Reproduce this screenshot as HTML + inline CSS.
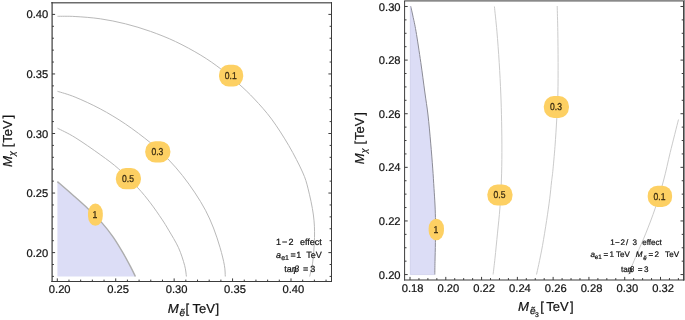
<!DOCTYPE html>
<html><head><meta charset="utf-8"><title>plot</title>
<style>
html,body{margin:0;padding:0;background:#fff;}
body{width:685px;height:320px;overflow:hidden;}
svg{display:block;}
svg{will-change:transform;transform:translateZ(0);}
svg text{font-family:"Liberation Sans","DejaVu Sans",sans-serif;text-rendering:geometricPrecision;stroke:#141414;stroke-width:0.22px;}
svg text.b{stroke:#3b2c12;stroke-width:0.3px;}
</style></head><body>
<svg width="685" height="320" viewBox="0 0 685 320">
<rect x="0" y="0" width="685" height="320" fill="#ffffff"/>
<path d="M57.40,181.60 C59.92,183.78 67.48,190.27 72.50,194.70 C77.52,199.13 82.58,203.50 87.50,208.20 C92.42,212.90 97.72,218.08 102.00,222.90 C106.28,227.72 109.63,231.98 113.20,237.10 C116.77,242.22 120.45,248.55 123.40,253.60 C126.35,258.65 128.90,263.58 130.90,267.40 C132.90,271.22 134.65,274.98 135.40,276.50 L57.4,276.5 L57.4,181.6 Z" fill="#dcddf6" stroke="none"/>
<path d="M57.40,181.60 C59.92,183.78 67.48,190.27 72.50,194.70 C77.52,199.13 82.58,203.50 87.50,208.20 C92.42,212.90 97.72,218.08 102.00,222.90 C106.28,227.72 109.63,231.98 113.20,237.10 C116.77,242.22 120.45,248.55 123.40,253.60 C126.35,258.65 128.90,263.58 130.90,267.40 C132.90,271.22 134.65,274.98 135.40,276.50" fill="none" stroke="#adadad" stroke-width="1.4"/>
<path d="M57.50,16.30 C60.43,16.33 67.97,16.08 75.10,16.50 C82.23,16.92 91.92,17.58 100.30,18.80 C108.68,20.02 117.03,21.70 125.40,23.80 C133.77,25.90 142.13,28.43 150.50,31.40 C158.87,34.37 167.22,37.63 175.60,41.60 C183.98,45.57 193.25,50.63 200.80,55.20 C208.35,59.77 214.55,64.20 220.90,69.00 C227.25,73.80 233.32,79.00 238.90,84.00 C244.48,89.00 248.95,93.15 254.40,99.00 C259.85,104.85 265.87,111.33 271.60,119.10 C277.33,126.87 283.65,136.78 288.80,145.60 C293.95,154.42 299.28,164.80 302.50,172.00 C305.72,179.20 306.28,181.63 308.10,188.80 C309.92,195.97 312.33,206.88 313.40,215.00 C314.47,223.12 314.65,229.37 314.50,237.50 C314.35,245.63 313.32,257.30 312.50,263.80 C311.68,270.30 310.08,274.38 309.60,276.50" fill="none" stroke="#b9b9b9" stroke-width="1.0"/>
<path d="M57.50,91.30 C60.43,92.27 67.97,94.17 75.10,97.10 C82.23,100.03 91.92,104.42 100.30,108.90 C108.68,113.38 117.03,118.35 125.40,124.00 C133.77,129.65 143.43,137.00 150.50,142.80 C157.57,148.60 162.47,153.33 167.80,158.80 C173.13,164.27 177.97,169.92 182.50,175.60 C187.03,181.28 191.17,187.12 195.00,192.90 C198.83,198.68 202.42,204.45 205.50,210.30 C208.58,216.15 211.07,221.77 213.50,228.00 C215.93,234.23 218.28,241.48 220.10,247.70 C221.92,253.92 223.53,260.50 224.40,265.30 C225.27,270.10 225.15,274.63 225.30,276.50" fill="none" stroke="#b9b9b9" stroke-width="1.0"/>
<path d="M57.50,128.20 C60.43,129.75 67.97,133.08 75.10,137.50 C82.23,141.92 93.02,149.45 100.30,154.70 C107.58,159.95 112.57,163.50 118.80,169.00 C125.03,174.50 132.45,182.07 137.70,187.70 C142.95,193.33 146.28,197.57 150.30,202.80 C154.32,208.03 158.73,214.53 161.80,219.10 C164.87,223.67 165.92,225.43 168.70,230.20 C171.48,234.97 175.85,241.85 178.50,247.70 C181.15,253.55 183.28,260.50 184.60,265.30 C185.92,270.10 186.10,274.63 186.40,276.50" fill="none" stroke="#b9b9b9" stroke-width="1.0"/>
<line x1="51.30" y1="2.75" x2="332.00" y2="2.75" stroke="#6c6c6c" stroke-width="1.4"/>
<line x1="52.10" y1="2.05" x2="52.10" y2="282.00" stroke="#3c3c3c" stroke-width="1.2"/>
<line x1="331.50" y1="2.05" x2="331.50" y2="282.00" stroke="#3c3c3c" stroke-width="1"/>
<line x1="51.30" y1="281.50" x2="332.00" y2="281.50" stroke="#3c3c3c" stroke-width="1"/>
<line x1="57.30" y1="281.50" x2="57.30" y2="278.40" stroke="#3c3c3c" stroke-width="1"/>
<text x="59.70" y="293.40" font-size="11.2" text-anchor="middle" fill="#141414">0.20</text>
<line x1="68.98" y1="281.50" x2="68.98" y2="279.60" stroke="#3c3c3c" stroke-width="1"/>
<line x1="80.67" y1="281.50" x2="80.67" y2="279.60" stroke="#3c3c3c" stroke-width="1"/>
<line x1="92.35" y1="281.50" x2="92.35" y2="279.60" stroke="#3c3c3c" stroke-width="1"/>
<line x1="104.04" y1="281.50" x2="104.04" y2="279.60" stroke="#3c3c3c" stroke-width="1"/>
<line x1="115.72" y1="281.50" x2="115.72" y2="278.40" stroke="#3c3c3c" stroke-width="1"/>
<text x="118.12" y="293.40" font-size="11.2" text-anchor="middle" fill="#141414">0.25</text>
<line x1="127.41" y1="281.50" x2="127.41" y2="279.60" stroke="#3c3c3c" stroke-width="1"/>
<line x1="139.09" y1="281.50" x2="139.09" y2="279.60" stroke="#3c3c3c" stroke-width="1"/>
<line x1="150.78" y1="281.50" x2="150.78" y2="279.60" stroke="#3c3c3c" stroke-width="1"/>
<line x1="162.47" y1="281.50" x2="162.47" y2="279.60" stroke="#3c3c3c" stroke-width="1"/>
<line x1="174.15" y1="281.50" x2="174.15" y2="278.40" stroke="#3c3c3c" stroke-width="1"/>
<text x="176.55" y="293.40" font-size="11.2" text-anchor="middle" fill="#141414">0.30</text>
<line x1="185.83" y1="281.50" x2="185.83" y2="279.60" stroke="#3c3c3c" stroke-width="1"/>
<line x1="197.52" y1="281.50" x2="197.52" y2="279.60" stroke="#3c3c3c" stroke-width="1"/>
<line x1="209.20" y1="281.50" x2="209.20" y2="279.60" stroke="#3c3c3c" stroke-width="1"/>
<line x1="220.89" y1="281.50" x2="220.89" y2="279.60" stroke="#3c3c3c" stroke-width="1"/>
<line x1="232.57" y1="281.50" x2="232.57" y2="278.40" stroke="#3c3c3c" stroke-width="1"/>
<text x="234.97" y="293.40" font-size="11.2" text-anchor="middle" fill="#141414">0.35</text>
<line x1="244.26" y1="281.50" x2="244.26" y2="279.60" stroke="#3c3c3c" stroke-width="1"/>
<line x1="255.94" y1="281.50" x2="255.94" y2="279.60" stroke="#3c3c3c" stroke-width="1"/>
<line x1="267.63" y1="281.50" x2="267.63" y2="279.60" stroke="#3c3c3c" stroke-width="1"/>
<line x1="279.31" y1="281.50" x2="279.31" y2="279.60" stroke="#3c3c3c" stroke-width="1"/>
<line x1="291.00" y1="281.50" x2="291.00" y2="278.40" stroke="#3c3c3c" stroke-width="1"/>
<text x="293.40" y="293.40" font-size="11.2" text-anchor="middle" fill="#141414">0.40</text>
<line x1="302.69" y1="281.50" x2="302.69" y2="279.60" stroke="#3c3c3c" stroke-width="1"/>
<line x1="314.37" y1="281.50" x2="314.37" y2="279.60" stroke="#3c3c3c" stroke-width="1"/>
<line x1="326.06" y1="281.50" x2="326.06" y2="279.60" stroke="#3c3c3c" stroke-width="1"/>
<line x1="52.00" y1="276.42" x2="53.90" y2="276.42" stroke="#3c3c3c" stroke-width="1"/>
<line x1="331.50" y1="276.42" x2="329.60" y2="276.42" stroke="#3c3c3c" stroke-width="1"/>
<line x1="52.00" y1="264.51" x2="53.90" y2="264.51" stroke="#3c3c3c" stroke-width="1"/>
<line x1="331.50" y1="264.51" x2="329.60" y2="264.51" stroke="#3c3c3c" stroke-width="1"/>
<line x1="52.00" y1="252.60" x2="55.10" y2="252.60" stroke="#3c3c3c" stroke-width="1"/>
<line x1="331.50" y1="252.60" x2="328.40" y2="252.60" stroke="#3c3c3c" stroke-width="1"/>
<text x="48.20" y="256.60" font-size="11.2" text-anchor="end" fill="#141414">0.20</text>
<line x1="52.00" y1="240.69" x2="53.90" y2="240.69" stroke="#3c3c3c" stroke-width="1"/>
<line x1="331.50" y1="240.69" x2="329.60" y2="240.69" stroke="#3c3c3c" stroke-width="1"/>
<line x1="52.00" y1="228.78" x2="53.90" y2="228.78" stroke="#3c3c3c" stroke-width="1"/>
<line x1="331.50" y1="228.78" x2="329.60" y2="228.78" stroke="#3c3c3c" stroke-width="1"/>
<line x1="52.00" y1="216.87" x2="53.90" y2="216.87" stroke="#3c3c3c" stroke-width="1"/>
<line x1="331.50" y1="216.87" x2="329.60" y2="216.87" stroke="#3c3c3c" stroke-width="1"/>
<line x1="52.00" y1="204.96" x2="53.90" y2="204.96" stroke="#3c3c3c" stroke-width="1"/>
<line x1="331.50" y1="204.96" x2="329.60" y2="204.96" stroke="#3c3c3c" stroke-width="1"/>
<line x1="52.00" y1="193.05" x2="55.10" y2="193.05" stroke="#3c3c3c" stroke-width="1"/>
<line x1="331.50" y1="193.05" x2="328.40" y2="193.05" stroke="#3c3c3c" stroke-width="1"/>
<text x="48.20" y="197.05" font-size="11.2" text-anchor="end" fill="#141414">0.25</text>
<line x1="52.00" y1="181.14" x2="53.90" y2="181.14" stroke="#3c3c3c" stroke-width="1"/>
<line x1="331.50" y1="181.14" x2="329.60" y2="181.14" stroke="#3c3c3c" stroke-width="1"/>
<line x1="52.00" y1="169.23" x2="53.90" y2="169.23" stroke="#3c3c3c" stroke-width="1"/>
<line x1="331.50" y1="169.23" x2="329.60" y2="169.23" stroke="#3c3c3c" stroke-width="1"/>
<line x1="52.00" y1="157.32" x2="53.90" y2="157.32" stroke="#3c3c3c" stroke-width="1"/>
<line x1="331.50" y1="157.32" x2="329.60" y2="157.32" stroke="#3c3c3c" stroke-width="1"/>
<line x1="52.00" y1="145.41" x2="53.90" y2="145.41" stroke="#3c3c3c" stroke-width="1"/>
<line x1="331.50" y1="145.41" x2="329.60" y2="145.41" stroke="#3c3c3c" stroke-width="1"/>
<line x1="52.00" y1="133.50" x2="55.10" y2="133.50" stroke="#3c3c3c" stroke-width="1"/>
<line x1="331.50" y1="133.50" x2="328.40" y2="133.50" stroke="#3c3c3c" stroke-width="1"/>
<text x="48.20" y="137.50" font-size="11.2" text-anchor="end" fill="#141414">0.30</text>
<line x1="52.00" y1="121.59" x2="53.90" y2="121.59" stroke="#3c3c3c" stroke-width="1"/>
<line x1="331.50" y1="121.59" x2="329.60" y2="121.59" stroke="#3c3c3c" stroke-width="1"/>
<line x1="52.00" y1="109.68" x2="53.90" y2="109.68" stroke="#3c3c3c" stroke-width="1"/>
<line x1="331.50" y1="109.68" x2="329.60" y2="109.68" stroke="#3c3c3c" stroke-width="1"/>
<line x1="52.00" y1="97.77" x2="53.90" y2="97.77" stroke="#3c3c3c" stroke-width="1"/>
<line x1="331.50" y1="97.77" x2="329.60" y2="97.77" stroke="#3c3c3c" stroke-width="1"/>
<line x1="52.00" y1="85.86" x2="53.90" y2="85.86" stroke="#3c3c3c" stroke-width="1"/>
<line x1="331.50" y1="85.86" x2="329.60" y2="85.86" stroke="#3c3c3c" stroke-width="1"/>
<line x1="52.00" y1="73.95" x2="55.10" y2="73.95" stroke="#3c3c3c" stroke-width="1"/>
<line x1="331.50" y1="73.95" x2="328.40" y2="73.95" stroke="#3c3c3c" stroke-width="1"/>
<text x="48.20" y="77.95" font-size="11.2" text-anchor="end" fill="#141414">0.35</text>
<line x1="52.00" y1="62.04" x2="53.90" y2="62.04" stroke="#3c3c3c" stroke-width="1"/>
<line x1="331.50" y1="62.04" x2="329.60" y2="62.04" stroke="#3c3c3c" stroke-width="1"/>
<line x1="52.00" y1="50.13" x2="53.90" y2="50.13" stroke="#3c3c3c" stroke-width="1"/>
<line x1="331.50" y1="50.13" x2="329.60" y2="50.13" stroke="#3c3c3c" stroke-width="1"/>
<line x1="52.00" y1="38.22" x2="53.90" y2="38.22" stroke="#3c3c3c" stroke-width="1"/>
<line x1="331.50" y1="38.22" x2="329.60" y2="38.22" stroke="#3c3c3c" stroke-width="1"/>
<line x1="52.00" y1="26.31" x2="53.90" y2="26.31" stroke="#3c3c3c" stroke-width="1"/>
<line x1="331.50" y1="26.31" x2="329.60" y2="26.31" stroke="#3c3c3c" stroke-width="1"/>
<line x1="52.00" y1="14.40" x2="55.10" y2="14.40" stroke="#3c3c3c" stroke-width="1"/>
<line x1="331.50" y1="14.40" x2="328.40" y2="14.40" stroke="#3c3c3c" stroke-width="1"/>
<text x="48.20" y="18.40" font-size="11.2" text-anchor="end" fill="#141414">0.40</text>
<rect x="219.00" y="64.80" width="24.20" height="21.60" rx="9.68" ry="10.15" fill="#fdd063"/>
<text x="224.75" y="79.00" font-size="10.0" fill="#3b2c12" class="b" textLength="11.9" lengthAdjust="spacingAndGlyphs">0.1</text>
<rect x="145.25" y="141.20" width="25.10" height="21.20" rx="10.04" ry="9.96" fill="#fdd063"/>
<text x="151.45" y="155.20" font-size="10.0" fill="#3b2c12" class="b" textLength="11.9" lengthAdjust="spacingAndGlyphs">0.3</text>
<rect x="115.85" y="168.10" width="25.10" height="21.20" rx="10.04" ry="9.96" fill="#fdd063"/>
<text x="122.05" y="182.10" font-size="10.0" fill="#3b2c12" class="b" textLength="11.9" lengthAdjust="spacingAndGlyphs">0.5</text>
<rect x="88.00" y="203.60" width="14.80" height="22.20" rx="7.40" ry="9.77" fill="#fdd063"/>
<text x="92.60" y="218.10" font-size="10.0" fill="#3b2c12" class="b" textLength="4.8" lengthAdjust="spacingAndGlyphs">1</text>
<text x="276.10" y="244.90" font-size="9" text-anchor="start" fill="#141414" >1</text>
<text x="282.00" y="244.90" font-size="9" text-anchor="start" fill="#141414" >−</text>
<text x="288.60" y="244.90" font-size="9" text-anchor="start" fill="#141414" >2</text>
<text x="299.90" y="244.90" font-size="9" text-anchor="start" fill="#141414" >effect</text>
<text x="276.00" y="258.00" font-size="9" text-anchor="start" fill="#141414" font-style="italic">a</text>
<text x="281.20" y="260.20" font-size="7.0" text-anchor="start" fill="#141414" >e1</text>
<text x="290.60" y="258.00" font-size="9" text-anchor="start" fill="#141414" >=</text>
<text x="296.30" y="258.00" font-size="9" text-anchor="start" fill="#141414" >1</text>
<text x="306.20" y="258.00" font-size="9" text-anchor="start" fill="#141414" >TeV</text>
<text x="284.20" y="271.80" font-size="9" text-anchor="start" fill="#141414" >tan</text>
<text x="294.00" y="271.80" font-size="9" text-anchor="start" fill="#141414" font-style="italic">β</text>
<text x="303.00" y="271.80" font-size="9" text-anchor="start" fill="#141414" >=</text>
<text x="310.20" y="271.80" font-size="9" text-anchor="start" fill="#141414" >3</text>
<text x="167.70" y="312.50" font-size="13.0" text-anchor="start" fill="#141414" font-style="italic" textLength="11.0" lengthAdjust="spacingAndGlyphs">M</text>
<text x="179.60" y="316.10" font-size="10.0" text-anchor="start" fill="#141414" font-style="italic">ẽ</text>
<text x="185.50" y="312.50" font-size="13.0" text-anchor="start" fill="#141414" >[</text>
<text x="192.60" y="312.50" font-size="13.0" text-anchor="start" fill="#141414" >TeV</text>
<text x="215.60" y="312.50" font-size="13.0" text-anchor="start" fill="#141414" >]</text>
<g transform="translate(12.00,166.90) rotate(-90)">
<text x="0.00" y="0.00" font-size="13.0" text-anchor="start" fill="#141414" font-style="italic" textLength="11.0" lengthAdjust="spacingAndGlyphs">M</text>
<text x="11.00" y="2.60" font-size="8.8" text-anchor="start" fill="#141414" font-style="italic">χ</text>
<text x="19.70" y="0.00" font-size="13.0" text-anchor="start" fill="#141414" >[</text>
<text x="24.20" y="0.00" font-size="13.0" text-anchor="start" fill="#141414" >TeV</text>
<text x="48.40" y="0.00" font-size="13.0" text-anchor="start" fill="#141414" >]</text>
</g>
<path d="M410.70,6.20 C411.07,7.83 412.02,11.82 412.90,16.00 C413.78,20.18 414.68,23.55 416.00,31.30 C417.32,39.05 419.33,52.38 420.80,62.50 C422.27,72.62 423.60,83.25 424.80,92.00 C426.00,100.75 427.02,106.48 428.00,115.00 C428.98,123.52 429.92,134.25 430.70,143.10 C431.48,151.95 432.15,160.55 432.70,168.10 C433.25,175.65 433.62,182.25 434.00,188.40 C434.38,194.55 434.75,199.40 435.00,205.00 C435.25,210.60 435.43,215.75 435.50,222.00 C435.57,228.25 435.48,235.95 435.40,242.50 C435.32,249.05 435.10,255.95 435.00,261.30 C434.90,266.65 434.83,272.38 434.80,274.60 L410.3,274.6 L410.3,6.2 Z" fill="#dcddf6" stroke="none"/>
<path d="M410.70,6.20 C411.07,7.83 412.02,11.82 412.90,16.00 C413.78,20.18 414.68,23.55 416.00,31.30 C417.32,39.05 419.33,52.38 420.80,62.50 C422.27,72.62 423.60,83.25 424.80,92.00 C426.00,100.75 427.02,106.48 428.00,115.00 C428.98,123.52 429.92,134.25 430.70,143.10 C431.48,151.95 432.15,160.55 432.70,168.10 C433.25,175.65 433.62,182.25 434.00,188.40 C434.38,194.55 434.75,199.40 435.00,205.00 C435.25,210.60 435.43,215.75 435.50,222.00 C435.57,228.25 435.48,235.95 435.40,242.50 C435.32,249.05 435.10,255.95 435.00,261.30 C434.90,266.65 434.83,272.38 434.80,274.60" fill="none" stroke="#8c8c96" stroke-width="1.0"/>
<path d="M410.3,6.2 L410.3,274.6 L434.8,274.6" fill="none" stroke="#c3c5e6" stroke-width="0.6"/>
<path d="M494.40,6.50 C494.82,10.62 496.10,21.92 496.90,31.25 C497.70,40.58 498.55,52.04 499.20,62.50 C499.85,72.96 500.40,84.20 500.80,94.00 C501.20,103.80 501.42,111.55 501.60,121.30 C501.78,131.05 501.93,142.72 501.90,152.50 C501.87,162.28 501.73,170.73 501.40,180.00 C501.07,189.27 500.55,199.25 499.90,208.10 C499.25,216.95 498.32,224.77 497.50,233.10 C496.68,241.43 495.73,251.20 495.00,258.10 C494.27,265.00 493.42,271.77 493.10,274.50" fill="none" stroke="#cbcbcb" stroke-width="1.0"/>
<path d="M557.20,6.00 C557.30,10.21 557.65,21.83 557.80,31.25 C557.95,40.67 558.08,52.08 558.10,62.50 C558.12,72.92 558.12,84.48 557.90,93.75 C557.68,103.02 557.28,109.34 556.80,118.10 C556.32,126.86 555.67,137.43 555.00,146.30 C554.33,155.17 553.38,165.35 552.80,171.30 C552.22,177.25 552.02,177.43 551.50,182.00 C550.98,186.57 550.52,192.32 549.70,198.75 C548.88,205.18 547.80,212.79 546.60,220.60 C545.40,228.41 543.81,238.30 542.50,245.60 C541.19,252.90 539.75,259.58 538.75,264.40 C537.75,269.22 536.88,272.82 536.50,274.50" fill="none" stroke="#cbcbcb" stroke-width="1.0"/>
<path d="M678.50,119.50 C677.12,125.00 672.67,142.42 670.20,152.50 C667.73,162.58 666.19,170.73 663.70,180.00 C661.21,189.27 658.22,199.25 655.25,208.10 C652.28,216.95 649.02,225.28 645.90,233.10 C642.77,240.92 639.43,248.10 636.50,255.00 C633.57,261.90 629.67,271.25 628.30,274.50" fill="none" stroke="#cbcbcb" stroke-width="1.0"/>
<rect x="404.1" y="0" width="280.9" height="1.7" fill="#8a8a8a"/>
<line x1="404.60" y1="1.00" x2="404.60" y2="280.50" stroke="#3c3c3c" stroke-width="1"/>
<rect x="683.1" y="0" width="1.9" height="280.5" fill="#8e8e8e"/>
<line x1="683.50" y1="1.00" x2="683.50" y2="280.50" stroke="#3c3c3c" stroke-width="0.9"/>
<line x1="404.10" y1="280.00" x2="684.15" y2="280.00" stroke="#3c3c3c" stroke-width="1.05"/>
<line x1="410.00" y1="280.00" x2="410.00" y2="276.90" stroke="#3c3c3c" stroke-width="1"/>
<text x="412.60" y="291.50" font-size="11.2" text-anchor="middle" fill="#141414">0.18</text>
<line x1="418.95" y1="280.00" x2="418.95" y2="278.10" stroke="#3c3c3c" stroke-width="1"/>
<line x1="427.89" y1="280.00" x2="427.89" y2="278.10" stroke="#3c3c3c" stroke-width="1"/>
<line x1="436.84" y1="280.00" x2="436.84" y2="278.10" stroke="#3c3c3c" stroke-width="1"/>
<line x1="445.79" y1="280.00" x2="445.79" y2="276.90" stroke="#3c3c3c" stroke-width="1"/>
<text x="448.39" y="291.50" font-size="11.2" text-anchor="middle" fill="#141414">0.20</text>
<line x1="454.73" y1="280.00" x2="454.73" y2="278.10" stroke="#3c3c3c" stroke-width="1"/>
<line x1="463.68" y1="280.00" x2="463.68" y2="278.10" stroke="#3c3c3c" stroke-width="1"/>
<line x1="472.63" y1="280.00" x2="472.63" y2="278.10" stroke="#3c3c3c" stroke-width="1"/>
<line x1="481.57" y1="280.00" x2="481.57" y2="276.90" stroke="#3c3c3c" stroke-width="1"/>
<text x="484.17" y="291.50" font-size="11.2" text-anchor="middle" fill="#141414">0.22</text>
<line x1="490.52" y1="280.00" x2="490.52" y2="278.10" stroke="#3c3c3c" stroke-width="1"/>
<line x1="499.46" y1="280.00" x2="499.46" y2="278.10" stroke="#3c3c3c" stroke-width="1"/>
<line x1="508.41" y1="280.00" x2="508.41" y2="278.10" stroke="#3c3c3c" stroke-width="1"/>
<line x1="517.36" y1="280.00" x2="517.36" y2="276.90" stroke="#3c3c3c" stroke-width="1"/>
<text x="519.96" y="291.50" font-size="11.2" text-anchor="middle" fill="#141414">0.24</text>
<line x1="526.30" y1="280.00" x2="526.30" y2="278.10" stroke="#3c3c3c" stroke-width="1"/>
<line x1="535.25" y1="280.00" x2="535.25" y2="278.10" stroke="#3c3c3c" stroke-width="1"/>
<line x1="544.20" y1="280.00" x2="544.20" y2="278.10" stroke="#3c3c3c" stroke-width="1"/>
<line x1="553.14" y1="280.00" x2="553.14" y2="276.90" stroke="#3c3c3c" stroke-width="1"/>
<text x="555.74" y="291.50" font-size="11.2" text-anchor="middle" fill="#141414">0.26</text>
<line x1="562.09" y1="280.00" x2="562.09" y2="278.10" stroke="#3c3c3c" stroke-width="1"/>
<line x1="571.04" y1="280.00" x2="571.04" y2="278.10" stroke="#3c3c3c" stroke-width="1"/>
<line x1="579.98" y1="280.00" x2="579.98" y2="278.10" stroke="#3c3c3c" stroke-width="1"/>
<line x1="588.93" y1="280.00" x2="588.93" y2="276.90" stroke="#3c3c3c" stroke-width="1"/>
<text x="591.53" y="291.50" font-size="11.2" text-anchor="middle" fill="#141414">0.28</text>
<line x1="597.88" y1="280.00" x2="597.88" y2="278.10" stroke="#3c3c3c" stroke-width="1"/>
<line x1="606.82" y1="280.00" x2="606.82" y2="278.10" stroke="#3c3c3c" stroke-width="1"/>
<line x1="615.77" y1="280.00" x2="615.77" y2="278.10" stroke="#3c3c3c" stroke-width="1"/>
<line x1="624.72" y1="280.00" x2="624.72" y2="276.90" stroke="#3c3c3c" stroke-width="1"/>
<text x="627.32" y="291.50" font-size="11.2" text-anchor="middle" fill="#141414">0.30</text>
<line x1="633.66" y1="280.00" x2="633.66" y2="278.10" stroke="#3c3c3c" stroke-width="1"/>
<line x1="642.61" y1="280.00" x2="642.61" y2="278.10" stroke="#3c3c3c" stroke-width="1"/>
<line x1="651.56" y1="280.00" x2="651.56" y2="278.10" stroke="#3c3c3c" stroke-width="1"/>
<line x1="660.50" y1="280.00" x2="660.50" y2="276.90" stroke="#3c3c3c" stroke-width="1"/>
<text x="663.10" y="291.50" font-size="11.2" text-anchor="middle" fill="#141414">0.32</text>
<line x1="669.45" y1="280.00" x2="669.45" y2="278.10" stroke="#3c3c3c" stroke-width="1"/>
<line x1="678.39" y1="280.00" x2="678.39" y2="278.10" stroke="#3c3c3c" stroke-width="1"/>
<line x1="404.60" y1="274.57" x2="407.70" y2="274.57" stroke="#3c3c3c" stroke-width="1"/>
<line x1="683.60" y1="274.57" x2="680.50" y2="274.57" stroke="#3c3c3c" stroke-width="1"/>
<text x="400.60" y="278.57" font-size="11.2" text-anchor="end" fill="#141414">0.20</text>
<line x1="404.60" y1="261.17" x2="406.50" y2="261.17" stroke="#3c3c3c" stroke-width="1"/>
<line x1="683.60" y1="261.17" x2="681.70" y2="261.17" stroke="#3c3c3c" stroke-width="1"/>
<line x1="404.60" y1="247.76" x2="406.50" y2="247.76" stroke="#3c3c3c" stroke-width="1"/>
<line x1="683.60" y1="247.76" x2="681.70" y2="247.76" stroke="#3c3c3c" stroke-width="1"/>
<line x1="404.60" y1="234.36" x2="406.50" y2="234.36" stroke="#3c3c3c" stroke-width="1"/>
<line x1="683.60" y1="234.36" x2="681.70" y2="234.36" stroke="#3c3c3c" stroke-width="1"/>
<line x1="404.60" y1="220.95" x2="407.70" y2="220.95" stroke="#3c3c3c" stroke-width="1"/>
<line x1="683.60" y1="220.95" x2="680.50" y2="220.95" stroke="#3c3c3c" stroke-width="1"/>
<text x="400.60" y="224.95" font-size="11.2" text-anchor="end" fill="#141414">0.22</text>
<line x1="404.60" y1="207.55" x2="406.50" y2="207.55" stroke="#3c3c3c" stroke-width="1"/>
<line x1="683.60" y1="207.55" x2="681.70" y2="207.55" stroke="#3c3c3c" stroke-width="1"/>
<line x1="404.60" y1="194.14" x2="406.50" y2="194.14" stroke="#3c3c3c" stroke-width="1"/>
<line x1="683.60" y1="194.14" x2="681.70" y2="194.14" stroke="#3c3c3c" stroke-width="1"/>
<line x1="404.60" y1="180.74" x2="406.50" y2="180.74" stroke="#3c3c3c" stroke-width="1"/>
<line x1="683.60" y1="180.74" x2="681.70" y2="180.74" stroke="#3c3c3c" stroke-width="1"/>
<line x1="404.60" y1="167.33" x2="407.70" y2="167.33" stroke="#3c3c3c" stroke-width="1"/>
<line x1="683.60" y1="167.33" x2="680.50" y2="167.33" stroke="#3c3c3c" stroke-width="1"/>
<text x="400.60" y="171.33" font-size="11.2" text-anchor="end" fill="#141414">0.24</text>
<line x1="404.60" y1="153.93" x2="406.50" y2="153.93" stroke="#3c3c3c" stroke-width="1"/>
<line x1="683.60" y1="153.93" x2="681.70" y2="153.93" stroke="#3c3c3c" stroke-width="1"/>
<line x1="404.60" y1="140.52" x2="406.50" y2="140.52" stroke="#3c3c3c" stroke-width="1"/>
<line x1="683.60" y1="140.52" x2="681.70" y2="140.52" stroke="#3c3c3c" stroke-width="1"/>
<line x1="404.60" y1="127.12" x2="406.50" y2="127.12" stroke="#3c3c3c" stroke-width="1"/>
<line x1="683.60" y1="127.12" x2="681.70" y2="127.12" stroke="#3c3c3c" stroke-width="1"/>
<line x1="404.60" y1="113.72" x2="407.70" y2="113.72" stroke="#3c3c3c" stroke-width="1"/>
<line x1="683.60" y1="113.72" x2="680.50" y2="113.72" stroke="#3c3c3c" stroke-width="1"/>
<text x="400.60" y="117.72" font-size="11.2" text-anchor="end" fill="#141414">0.26</text>
<line x1="404.60" y1="100.31" x2="406.50" y2="100.31" stroke="#3c3c3c" stroke-width="1"/>
<line x1="683.60" y1="100.31" x2="681.70" y2="100.31" stroke="#3c3c3c" stroke-width="1"/>
<line x1="404.60" y1="86.91" x2="406.50" y2="86.91" stroke="#3c3c3c" stroke-width="1"/>
<line x1="683.60" y1="86.91" x2="681.70" y2="86.91" stroke="#3c3c3c" stroke-width="1"/>
<line x1="404.60" y1="73.50" x2="406.50" y2="73.50" stroke="#3c3c3c" stroke-width="1"/>
<line x1="683.60" y1="73.50" x2="681.70" y2="73.50" stroke="#3c3c3c" stroke-width="1"/>
<line x1="404.60" y1="60.10" x2="407.70" y2="60.10" stroke="#3c3c3c" stroke-width="1"/>
<line x1="683.60" y1="60.10" x2="680.50" y2="60.10" stroke="#3c3c3c" stroke-width="1"/>
<text x="400.60" y="64.10" font-size="11.2" text-anchor="end" fill="#141414">0.28</text>
<line x1="404.60" y1="46.69" x2="406.50" y2="46.69" stroke="#3c3c3c" stroke-width="1"/>
<line x1="683.60" y1="46.69" x2="681.70" y2="46.69" stroke="#3c3c3c" stroke-width="1"/>
<line x1="404.60" y1="33.29" x2="406.50" y2="33.29" stroke="#3c3c3c" stroke-width="1"/>
<line x1="683.60" y1="33.29" x2="681.70" y2="33.29" stroke="#3c3c3c" stroke-width="1"/>
<line x1="404.60" y1="19.88" x2="406.50" y2="19.88" stroke="#3c3c3c" stroke-width="1"/>
<line x1="683.60" y1="19.88" x2="681.70" y2="19.88" stroke="#3c3c3c" stroke-width="1"/>
<line x1="404.60" y1="6.48" x2="407.70" y2="6.48" stroke="#3c3c3c" stroke-width="1"/>
<line x1="683.60" y1="6.48" x2="680.50" y2="6.48" stroke="#3c3c3c" stroke-width="1"/>
<text x="400.60" y="11.08" font-size="11.2" text-anchor="end" fill="#141414">0.30</text>
<rect x="428.65" y="218.70" width="15.30" height="21.60" rx="7.65" ry="9.50" fill="#fdd063"/>
<text x="433.50" y="232.90" font-size="10.0" fill="#3b2c12" class="b" textLength="4.8" lengthAdjust="spacingAndGlyphs">1</text>
<rect x="487.40" y="184.40" width="25.10" height="21.20" rx="10.04" ry="9.96" fill="#fdd063"/>
<text x="493.60" y="198.40" font-size="10.0" fill="#3b2c12" class="b" textLength="11.9" lengthAdjust="spacingAndGlyphs">0.5</text>
<rect x="543.85" y="96.10" width="25.10" height="21.80" rx="10.04" ry="10.25" fill="#fdd063"/>
<text x="550.05" y="110.40" font-size="10.0" fill="#3b2c12" class="b" textLength="11.9" lengthAdjust="spacingAndGlyphs">0.3</text>
<rect x="647.70" y="185.65" width="24.40" height="21.30" rx="9.76" ry="10.01" fill="#fdd063"/>
<text x="653.55" y="199.70" font-size="10.0" fill="#3b2c12" class="b" textLength="11.9" lengthAdjust="spacingAndGlyphs">0.1</text>
<text x="610.30" y="244.70" font-size="8.1" text-anchor="start" fill="#141414" >1</text>
<text x="615.00" y="244.70" font-size="8.1" text-anchor="start" fill="#141414" >−</text>
<text x="620.60" y="244.70" font-size="8.1" text-anchor="start" fill="#141414" >2</text>
<text x="626.00" y="244.70" font-size="8.1" text-anchor="start" fill="#141414" >/</text>
<text x="632.60" y="244.70" font-size="8.1" text-anchor="start" fill="#141414" >3</text>
<text x="642.20" y="244.70" font-size="8.1" text-anchor="start" fill="#141414" >effect</text>
<text x="590.50" y="256.90" font-size="8.1" text-anchor="start" fill="#141414" font-style="italic">a</text>
<text x="594.80" y="258.90" font-size="6.3" text-anchor="start" fill="#141414" >e1</text>
<text x="603.40" y="256.90" font-size="8.1" text-anchor="start" fill="#141414" >=</text>
<text x="609.60" y="256.90" font-size="8.1" text-anchor="start" fill="#141414" >1</text>
<text x="616.00" y="256.90" font-size="8.1" text-anchor="start" fill="#141414" >TeV</text>
<text x="635.70" y="256.90" font-size="8.1" text-anchor="start" fill="#141414" font-style="italic">M</text>
<text x="643.30" y="259.70" font-size="6.2" text-anchor="start" fill="#141414" font-style="italic">ẽ</text>
<text x="648.50" y="256.90" font-size="8.1" text-anchor="start" fill="#141414" >=</text>
<text x="654.40" y="256.90" font-size="8.1" text-anchor="start" fill="#141414" >2</text>
<text x="665.10" y="256.90" font-size="8.1" text-anchor="start" fill="#141414" >TeV</text>
<text x="621.00" y="271.50" font-size="8.1" text-anchor="start" fill="#141414" >tan</text>
<text x="629.50" y="271.50" font-size="8.1" text-anchor="start" fill="#141414" font-style="italic">β</text>
<text x="637.80" y="271.50" font-size="8.1" text-anchor="start" fill="#141414" >=</text>
<text x="643.90" y="271.50" font-size="8.1" text-anchor="start" fill="#141414" >3</text>
<text x="518.00" y="310.60" font-size="13.0" text-anchor="start" fill="#141414" font-style="italic" textLength="11.0" lengthAdjust="spacingAndGlyphs">M</text>
<text x="529.90" y="314.20" font-size="10.0" text-anchor="start" fill="#141414" font-style="italic">ẽ</text>
<text x="535.10" y="316.70" font-size="6.8" text-anchor="start" fill="#141414" >3</text>
<text x="540.30" y="310.60" font-size="13.0" text-anchor="start" fill="#141414" >[</text>
<text x="546.30" y="310.60" font-size="13.0" text-anchor="start" fill="#141414" >TeV</text>
<text x="569.90" y="310.60" font-size="13.0" text-anchor="start" fill="#141414" >]</text>
<g transform="translate(364.00,164.20) rotate(-90)">
<text x="0.00" y="0.00" font-size="13.0" text-anchor="start" fill="#141414" font-style="italic" textLength="11.0" lengthAdjust="spacingAndGlyphs">M</text>
<text x="11.00" y="2.60" font-size="8.8" text-anchor="start" fill="#141414" font-style="italic">χ</text>
<text x="19.70" y="0.00" font-size="13.0" text-anchor="start" fill="#141414" >[</text>
<text x="24.20" y="0.00" font-size="13.0" text-anchor="start" fill="#141414" >TeV</text>
<text x="48.40" y="0.00" font-size="13.0" text-anchor="start" fill="#141414" >]</text>
</g>
</svg>
</body></html>
